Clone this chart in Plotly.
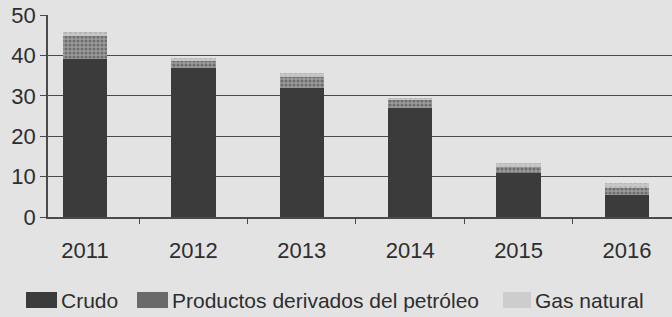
import plotly.graph_objects as go

years = ["2011", "2012", "2013", "2014", "2015", "2016"]
series_names = ["Crudo", "Productos derivados del petróleo", "Gas natural"]
crudo = [39, 37, 32, 27, 11, 5.5]
productos = [5.8, 1.7, 2.7, 2.0, 1.5, 1.8]
gas = [1.0, 0.7, 1.0, 0.5, 0.8, 1.2]
y_ticks = [0, 10, 20, 30, 40, 50]

W, H = 672, 317
L, R, T, B = 48, 0, 15, 100
BG = "#e3e3e3"
FONT = "Liberation Sans, Arial, sans-serif"
TXT = "#2e2e2e"

xpos = list(range(len(years)))

fig = go.Figure()
fig.add_trace(go.Bar(x=xpos, y=crudo, name=series_names[0], width=0.41,
                     marker=dict(color="#3b3b3b", line=dict(width=0)), showlegend=False))
fig.add_trace(go.Bar(x=xpos, y=productos, name=series_names[1], width=0.41,
                     marker=dict(color="#8a8a8a", line=dict(width=0),
                                 pattern=dict(shape=".", fgcolor="#404040", bgcolor="#9c9c9c",
                                              size=4, solidity=0.5)), showlegend=False))
fig.add_trace(go.Bar(x=xpos, y=gas, name=series_names[2], width=0.41,
                     marker=dict(color="#bdbdbd", line=dict(width=0),
                                 pattern=dict(shape=".", fgcolor="#a0a0a0", bgcolor="#c6c6c6",
                                              size=5, solidity=0.3)), showlegend=False))

# Manual legend (pixel layout converted to paper coords)
pw = W - L - R
ph = H - T - B
def px(x):
    return (x - L) / pw
def py(y):
    return (H - B - y) / ph

legend_items = [
    (26, 57, 61, "#3b3b3b"),
    (137, 168, 172, "#6a6a6a"),
    (503, 531, 535, "#cdcdcd"),
]
shapes = []
annotations = []
for (sx0, sx1, tx, col), name in zip(legend_items, series_names):
    shapes.append(dict(type="rect", xref="paper", yref="paper",
                       x0=px(sx0), x1=px(sx1), y0=py(308), y1=py(292),
                       fillcolor=col, line=dict(width=0), layer="above"))
    annotations.append(dict(xref="paper", yref="paper", x=px(tx), y=py(300.5),
                            text=name, showarrow=False, xanchor="left", yanchor="middle",
                            xshift=-2,
                            font=dict(family=FONT, size=21, color=TXT)))

fig.update_layout(
    width=W, height=H,
    margin=dict(l=L, r=R, t=T, b=B, pad=0),
    paper_bgcolor=BG, plot_bgcolor=BG,
    barmode="stack",
    showlegend=False,
    shapes=shapes,
    annotations=annotations,
    xaxis=dict(
        range=[-0.341, 5.415],
        tickmode="array", tickvals=xpos, ticktext=years,
        ticks="outside", ticklen=13, tickcolor="rgba(0,0,0,0)",
        tickfont=dict(family=FONT, size=22, color=TXT),
        showline=True, linecolor="#4a4a4a", linewidth=1.5,
        showgrid=False, zeroline=False,
        minor=dict(tickvals=[0.5, 1.5, 2.5, 3.5, 4.5], ticks="outside",
                   ticklen=5, tickcolor="#4a4a4a", tickwidth=1.2),
    ),
    yaxis=dict(
        range=[0, 50],
        tickmode="array", tickvals=y_ticks,
        ticks="outside", ticklen=6, tickcolor="#4a4a4a", tickwidth=1.2,
        tickfont=dict(family=FONT, size=22, color=TXT),
        showline=True, linecolor="#4a4a4a", linewidth=1.5,
        showgrid=True, gridcolor="#4a4a4a", gridwidth=1.4,
        zeroline=False,
    ),
)

fig.write_html("out.html",
               config={"displayModeBar": False},
               post_script="document.body.style.margin='0';document.body.style.overflow='hidden';")
